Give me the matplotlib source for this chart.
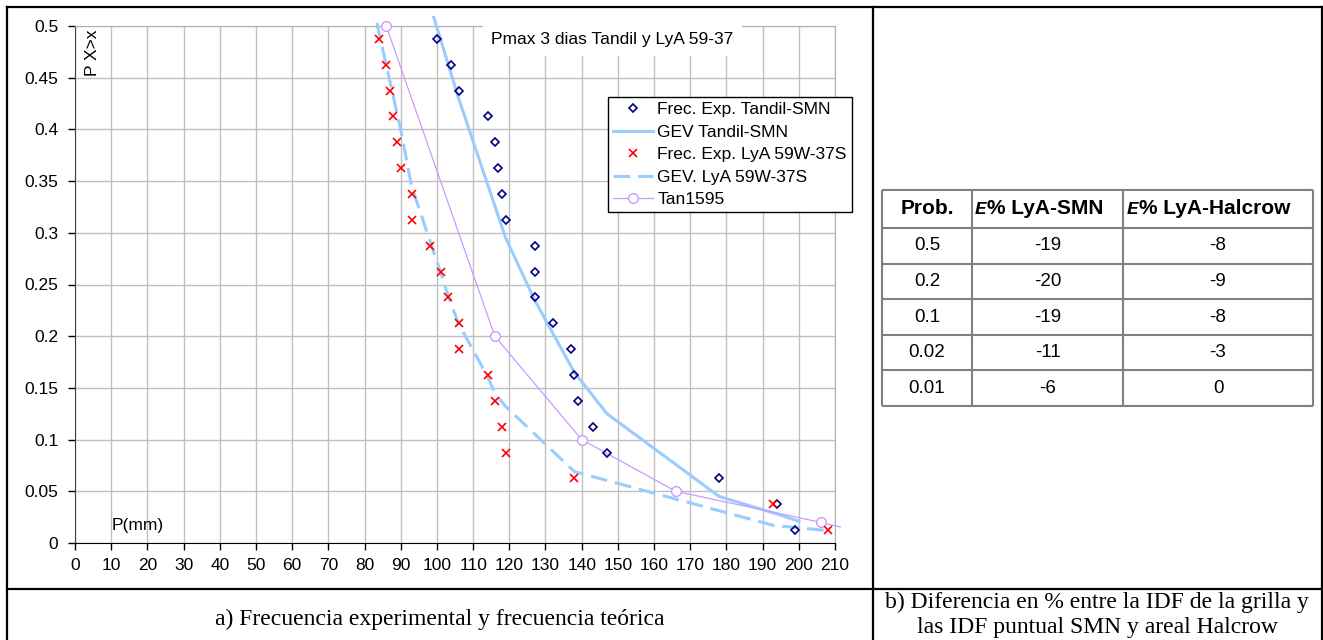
import matplotlib
matplotlib.use("Agg")
import matplotlib.pyplot as plt
from matplotlib.lines import Line2D
from matplotlib.patches import Rectangle

# Datos
p_exp = [0.4875, 0.4625, 0.4375, 0.4125, 0.3875, 0.3625, 0.3375, 0.3125, 0.2875, 0.2625,
         0.2375, 0.2125, 0.1875, 0.1625, 0.1375, 0.1125, 0.0875, 0.0625, 0.0375, 0.0125]
tandil_x = [100, 104, 106, 114, 116, 117, 118, 119, 127, 127,
            127, 132, 137, 138, 139, 143, 147, 178, 194, 199]
lya_x = [84, 86, 87, 88, 89, 90, 93, 93, 98, 101,
         103, 106, 106, 114, 116, 118, 119, 138, 193, 208]

gev_tandil_x = [99, 106, 119, 127, 132, 138, 147, 178, 194, 200]
gev_tandil_y = [0.51, 0.43, 0.295, 0.235, 0.203, 0.165, 0.125, 0.045, 0.028, 0.021]

gev_lya_x = [83.4, 90, 93, 98, 101, 103, 106, 114, 116, 119, 138, 193, 208]
gev_lya_y = [0.503, 0.40, 0.345, 0.293, 0.262, 0.240, 0.212, 0.161, 0.145, 0.132, 0.069, 0.017, 0.012]

tan_x = [86, 116, 140, 166, 206, 218]
tan_y = [0.5, 0.2, 0.1, 0.05, 0.02, 0.01]

xticks = list(range(0, 211, 10))
yticks = [0, 0.05, 0.1, 0.15, 0.2, 0.25, 0.3, 0.35, 0.4, 0.45, 0.5]
ytick_labels = ["0", "0.05", "0.1", "0.15", "0.2", "0.25", "0.3", "0.35", "0.4", "0.45", "0.5"]

# tabla b)
tab_prob = ["0.5", "0.2", "0.1", "0.02", "0.01"]
tab_smn = ["-19", "-20", "-19", "-11", "-6"]
tab_halcrow = ["-8", "-9", "-8", "-3", "0"]
tab_headers = ["% LyA-SMN", "% LyA-Halcrow"]

W, H = 1323, 640
plt.rcParams["font.family"] = ["Liberation Sans", "DejaVu Sans"]
fig = plt.figure(figsize=(W / 100, H / 100), dpi=100)

def fx(px):
    return px / W

def fy(py):
    return 1 - py / H

fs = 12.5

# ---- grafico a) ----
ax = fig.add_axes([fx(75), fy(543), fx(835) - fx(75), fy(26) - fy(543)])
ax.set_xlim(0, 210)
ax.set_ylim(0, 0.5)
ax.set_xticks(xticks)
ax.set_yticks(yticks)
ax.set_yticklabels(ytick_labels)
ax.tick_params(direction="out", length=5, width=1, labelsize=fs, colors="black")
ax.tick_params(axis="y", pad=7)
ax.tick_params(axis="x", pad=6)
ax.grid(True, color="#c0c0c0", lw=1)
ax.set_axisbelow(True)
for s in ["top", "right"]:
    ax.spines[s].set_color("#b0b0b0")
ax.spines["left"].set_color("#404040")
ax.spines["bottom"].set_color("black")

clip = Rectangle((0, -0.01), 1.008, 1.03, transform=ax.transAxes, visible=False)
ax.add_patch(clip)

ax.plot(tandil_x, p_exp, ls="none", marker="D", ms=4.2, mfc="none", mec="#000080", mew=1.2,
        label="Frec. Exp. Tandil-SMN", zorder=4)
l1, = ax.plot(gev_tandil_x, gev_tandil_y, color="#99ccff", lw=2.2, label="GEV Tandil-SMN", zorder=3)
ax.plot(lya_x, p_exp, ls="none", marker="x", ms=5.5, mec="red", mew=1.2,
        label="Frec. Exp. LyA 59W-37S", zorder=4)
l2, = ax.plot(gev_lya_x, gev_lya_y, color="#99ccff", lw=2.2, dashes=(5.5, 2.6),
              label="GEV. LyA 59W-37S", zorder=3)
l3, = ax.plot(tan_x, tan_y, color="#cc99ff", lw=0.9, marker="o", ms=7, mfc="white",
              mec="#cc99ff", mew=1, label="Tan1595", zorder=3)
for ln in (l1, l2, l3):
    ln.set_clip_path(clip)

ax.text(148.4, 0.4865, "Pmax 3 dias Tandil y LyA 59-37", fontsize=fs, ha="center", va="center",
        bbox=dict(facecolor="white", edgecolor="none", pad=6), zorder=5, clip_on=False)
ax.text(4.8, 0.452, "P X>x", rotation=90, fontsize=fs, ha="center", va="bottom")
ax.text(10.2, 0.017, "P(mm)", fontsize=fs, ha="left", va="center")

leg = ax.legend(loc="upper left", bbox_to_anchor=(fx(608), fy(97)), bbox_transform=fig.transFigure,
                borderaxespad=0, fontsize=fs, frameon=True, fancybox=False, framealpha=1,
                handlelength=2.3, handletextpad=0.25, labelspacing=0.42, borderpad=0.3)
leg.get_frame().set_edgecolor("black")
leg.get_frame().set_linewidth(1)
leg.set_zorder(6)

# ---- tabla b) ----
col_edges = [0, 90, 241, 431]
row_edges = [0, 38, 73.6, 109.2, 144.8, 180.4, 216]
axt = fig.add_axes([fx(882), fy(406), fx(1313) - fx(882), fy(190) - fy(406)])
axt.set_xlim(0, 431)
axt.set_ylim(216, 0)
axt.axis("off")
axt.hlines(row_edges, 0, 431, color="#808080", lw=1.5, clip_on=False)
axt.vlines(col_edges, 0, 216, color="#808080", lw=1.5, clip_on=False)

fs_t = 13.5
fs_h = 15
axt.text(45, 19, "Prob.", fontsize=fs_h, fontweight="bold", ha="center", va="center")
e_pos = [104, 256]
for xe, hd in zip(e_pos, tab_headers):
    axt.text(xe, 19, "E", fontsize=fs_h - 1, fontweight="bold", style="italic",
             family=["Liberation Mono", "DejaVu Sans Mono"], ha="right", va="center")
    axt.text(xe + 1, 19, hd, fontsize=fs_h, fontweight="bold", ha="left", va="center")
for i in range(len(tab_prob)):
    yc = (row_edges[i + 1] + row_edges[i + 2]) / 2
    axt.text(45, yc, tab_prob[i], fontsize=fs_t, ha="center", va="center")
    axt.text(165.5, yc, tab_smn[i], fontsize=fs_t, ha="center", va="center")
    axt.text(336, yc, tab_halcrow[i], fontsize=fs_t, ha="center", va="center")

# ---- marco y leyendas ----
frame = [((7, 1322), (7, 7)), ((7, 7), (7, 640)), ((1322, 1322), (7, 640)),
         ((7, 1322), (589, 589)), ((873, 873), (7, 640))]
for xs, ys in frame:
    fig.add_artist(Line2D([fx(v) for v in xs], [fy(v) for v in ys], transform=fig.transFigure,
                          color="black", lw=1.6))

fig.text(fx(440), fy(625), "a) Frecuencia experimental y frecuencia teórica",
         family=["Liberation Serif", "DejaVu Serif"], fontsize=17, ha="center", va="baseline")
fig.text(fx(1097), fy(592), "b) Diferencia en % entre la IDF de la grilla y\nlas IDF puntual SMN y areal Halcrow",
         family=["Liberation Serif", "DejaVu Serif"], fontsize=17, ha="center", va="top",
         linespacing=1.22)

fig.savefig("out.png", dpi=100)
